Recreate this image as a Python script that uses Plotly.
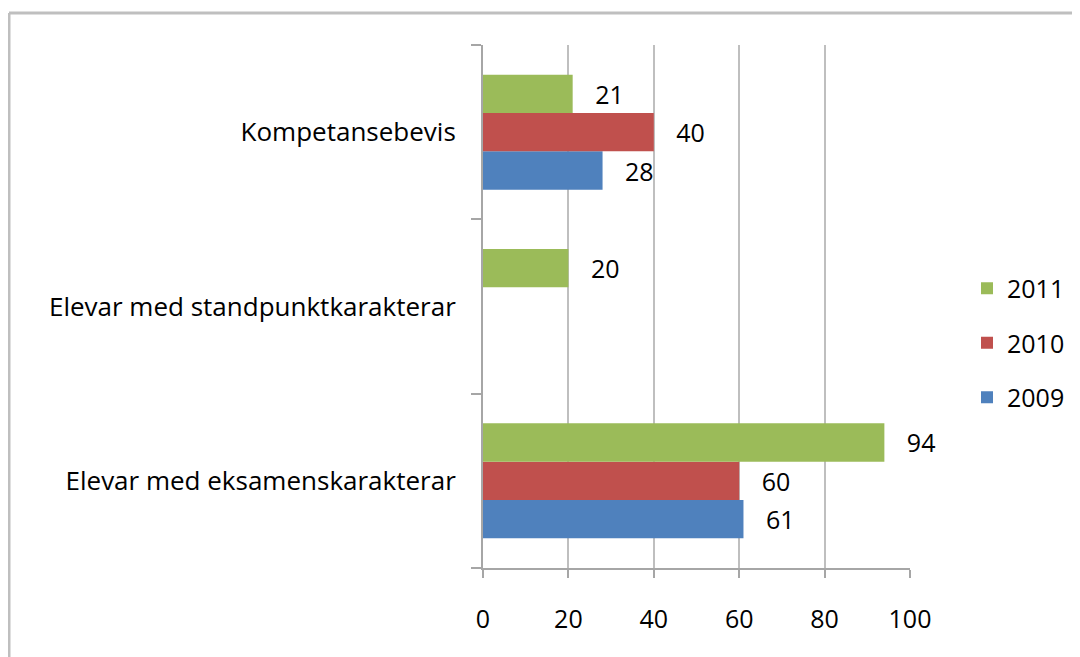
import plotly.graph_objects as go

categories = ["Elevar med eksamenskarakterar", "Elevar med standpunktkarakterar", "Kompetansebevis"]
years = ["2009", "2010", "2011"]
values_2009 = [61, None, 28]
values_2010 = [60, None, 40]
values_2011 = [94, 20, 21]
colors = ["#4F81BD", "#C0504D", "#9BBB59"]
x_ticks = [0, 20, 40, 60, 80, 100]

FONT = "Open Sans"
OFF = 8  # page body margin
W, H = 1080 - OFF, 657 - OFF
L, T = 483 - OFF, 45 - OFF
R = W - (910 - OFF)
B = H - (568 - OFF)

fig = go.Figure()
for i, (name, vals, col) in enumerate(zip(years, [values_2009, values_2010, values_2011], colors)):
    fig.add_trace(go.Bar(
        y=categories, x=vals, name=name, orientation="h",
        marker=dict(color=col, line=dict(width=0)),
        text=[("\u00a0\u00a0\u00a0" + str(v)) if v is not None else "" for v in vals],
        textposition="outside", cliponaxis=False,
        textfont=dict(family=FONT, size=25, color="#000"),
        legendgroup=name, legendrank=1000 - i,
    ))

pw = W - L - R
ph = H - T - B
def px_x(p):
    return (p - OFF - L) / pw
def px_y(p):
    return 1 - (p - OFF - T) / ph

fig.update_layout(
    width=W, height=H,
    margin=dict(l=L, r=R, t=T, b=B),
    paper_bgcolor="white", plot_bgcolor="white",
    barmode="group", bargap=0.34, bargroupgap=0,
    font=dict(family=FONT, size=25, color="#000"),
    legend=dict(traceorder="grouped", tracegroupgap=19,
                x=(967 - OFF) / W, xanchor="left", xref="container",
                y=1 - (343 - OFF) / H, yanchor="middle", yref="container",
                font=dict(family=FONT, size=25, color="#000"), itemwidth=30),
    showlegend=True,
    xaxis=dict(range=[0, 100], tickvals=x_ticks, showgrid=True, gridcolor="#BFBFBF", gridwidth=2,
               showline=True, linecolor="#A6A6A6", linewidth=2, ticks="outside", ticklen=8,
               tickcolor="#A6A6A6", tickwidth=2, zeroline=False, ticklabelstandoff=20,
               tickfont=dict(family=FONT, size=25, color="#000")),
    yaxis=dict(type="category", categoryorder="array", categoryarray=categories,
               showline=True, linecolor="#A6A6A6", linewidth=2, ticks="outside", ticklen=10,
               tickcolor="#A6A6A6", tickwidth=2, tickson="boundaries", showgrid=False,
               ticklabelstandoff=20, tickfont=dict(family=FONT, size=26, color="#000")),
    shapes=[
        dict(type="line", xref="paper", yref="paper", x0=px_x(9), x1=px_x(1090), y0=px_y(13), y1=px_y(13),
             line=dict(color="#BFBFBF", width=3)),
        dict(type="line", xref="paper", yref="paper", x0=px_x(9), x1=px_x(9), y0=px_y(13), y1=px_y(670),
             line=dict(color="#BFBFBF", width=3)),
    ],
)
fig.write_html("out.html")
